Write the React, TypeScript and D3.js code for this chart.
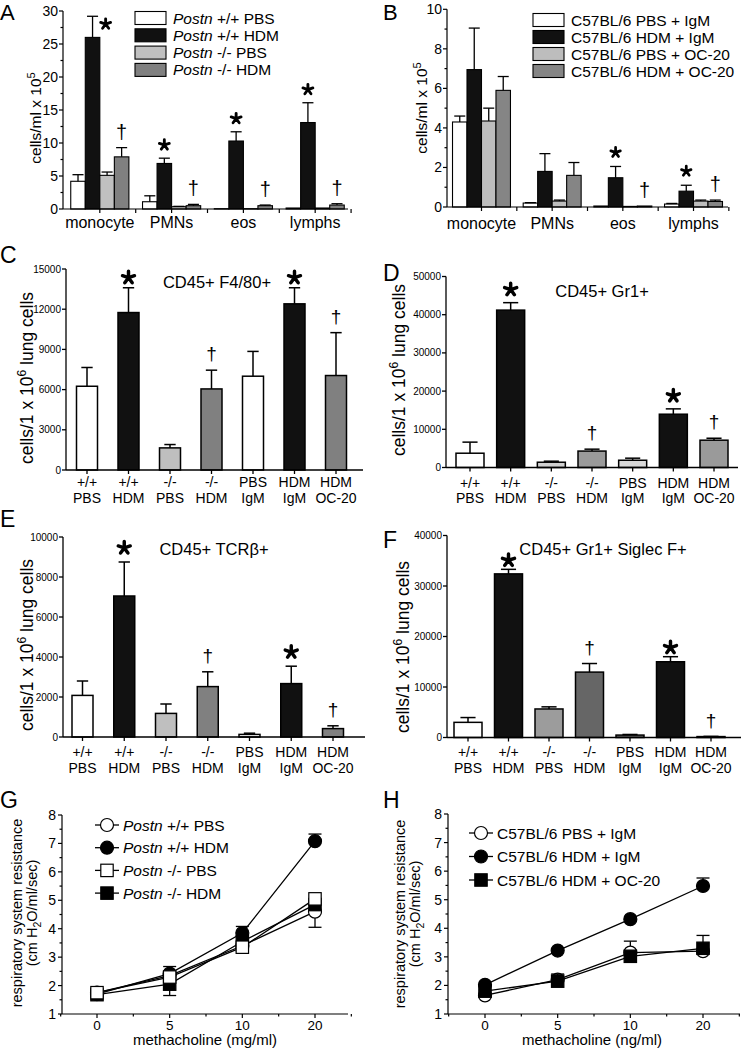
import React from "react";
import * as d3 from "d3";

const FONT = "'Liberation Sans', Arial, Helvetica, sans-serif";

// ---------- Panels A & B: BAL cell counts ----------
const cellTypes = ["monocyte", "PMNs", "eos", "lymphs"];

const aGroups = ["+/+ PBS", "+/+ HDM", "-/- PBS", "-/- HDM"];
const aMean = [
  [4.2, 1.1, 0.05, 0.15],
  [26.0, 6.9, 10.3, 13.1],
  [5.1, 0.35, 0.05, 0.15],
  [7.9, 0.5, 0.5, 0.6],
];
const aSem = [
  [1.0, 0.9, 0, 0],
  [3.2, 0.8, 1.4, 3.0],
  [0.5, 0.05, 0, 0],
  [1.4, 0.2, 0.1, 0.2],
];
const aStar = [[1, 0], [1, 1], [1, 2], [1, 3]];
const aDagger = [[3, 0], [3, 1], [3, 2], [3, 3]];
const aTicks = [0, 5, 10, 15, 20, 25, 30];

const bGroups = ["C57BL/6 PBS + IgM", "C57BL/6 HDM + IgM", "C57BL/6 PBS + OC-20", "C57BL/6 HDM + OC-20"];
const bMean = [
  [4.3, 0.2, 0.05, 0.15],
  [6.95, 1.8, 1.48, 0.8],
  [4.35, 0.3, 0.03, 0.3],
  [5.9, 1.6, 0.05, 0.28],
];
const bSem = [
  [0.3, 0.02, 0, 0.03],
  [2.1, 0.9, 0.57, 0.3],
  [0.65, 0.05, 0, 0.05],
  [0.7, 0.65, 0, 0.07],
];
const bStar = [[1, 2], [1, 3]];
const bDagger = [[3, 2], [3, 3]];
const bTicks = [0, 2, 4, 6, 8, 10];

// ---------- Panels C-F: lung cell flow counts ----------
const treatTop = ["+/+", "+/+", "-/-", "-/-", "PBS", "HDM", "HDM"];
const treatBottom = ["PBS", "HDM", "PBS", "HDM", "IgM", "IgM", "OC-20"];

const cMean = [6250, 11750, 1650, 6050, 7000, 12400, 7050];
const cSem = [1400, 1850, 250, 1400, 1850, 1200, 3200];
const cTicks = [0, 3000, 6000, 9000, 12000, 15000];

const dMean = [3740, 41200, 1380, 4300, 1900, 13950, 7150];
const dSem = [2900, 1950, 270, 500, 540, 1400, 510];
const dTicks = [0, 10000, 20000, 30000, 40000, 50000];

const eMean = [2080, 7050, 1180, 2520, 130, 2670, 420];
const eSem = [720, 1700, 470, 740, 60, 870, 140];
const eTicks = [0, 2000, 4000, 6000, 8000, 10000];

const fMean = [3000, 32400, 5650, 12950, 480, 15000, 180];
const fSem = [950, 900, 420, 1700, 120, 1000, 40];
const fTicks = [0, 10000, 20000, 30000, 40000];

const starIdx = [1, 5];
const daggerIdx = [3, 6];

// ---------- Panels G & H: airway resistance ----------
const doseLabels = ["0", "5", "10", "20"];
const resTicks = [1, 2, 3, 4, 5, 6, 7, 8];

const gGroups = ["+/+ PBS", "+/+ HDM", "-/- PBS", "-/- HDM"];
const gMean = [
  [1.75, 2.35, 3.4, 4.6],
  [1.7, 2.42, 3.85, 7.08],
  [1.75, 2.3, 3.35, 5.05],
  [1.68, 2.05, 3.55, 4.85],
];
const gErrUp = [
  [0, 0, 0, 0],
  [0, 0.25, 0.23, 0.25],
  [0, 0, 0, 0],
  [0, 0, 0, 0],
];
const gErrDown = [
  [0, 0, 0, 0.55],
  [0, 0, 0, 0],
  [0, 0, 0.15, 0],
  [0, 0.4, 0, 0],
];

const hGroups = ["C57BL/6 PBS + IgM", "C57BL/6 HDM + IgM", "C57BL/6 HDM + OC-20"];
const hMean = [
  [1.65, 2.2, 3.15, 3.2],
  [2.02, 3.22, 4.32, 5.48],
  [1.8, 2.15, 3.02, 3.3],
];
const hErrUp = [
  [0, 0, 0.4, 0],
  [0, 0, 0, 0.28],
  [0, 0.25, 0, 0.45],
];
const hErrDown = [
  [0, 0, 0, 0],
  [0, 0, 0, 0],
  [0, 0, 0, 0],
];

// ---------- helpers ----------
function starPath(cx: number, cy: number, r: number) {
  const p = d3.path();
  for (let k = 0; k < 5; k++) {
    const a = (-90 + 72 * k) * (Math.PI / 180);
    p.moveTo(cx, cy);
    p.lineTo(cx + r * Math.cos(a), cy + r * Math.sin(a));
  }
  return p.toString();
}

// star centred above yTop with given gap; r = arm length
function Star({ x, yTop, r, gap }: any) {
  const cy = yTop - gap - r * 0.81;
  return <path d={starPath(x, cy, r)} stroke="#000" strokeWidth={r * 0.55} fill="none" strokeLinecap="round" />;
}
function Dagger({ x, yTop, fs, gap = 6 }: any) {
  return (
    <text x={x} y={yTop - gap - 0.15 * fs} fontSize={fs} textAnchor="middle">†</text>
  );
}

function GroupLabel({ label, italic }: any) {
  if (!italic) return <>{label}</>;
  return (
    <>
      <tspan fontStyle="italic">Postn</tspan> {label}
    </>
  );
}

function GroupedPanel({ p }: any) {
  const y = d3.scaleLinear().domain([0, p.max]).range([p.bottom, p.top]);
  const x = d3.scaleBand().domain(cellTypes).range(p.band).paddingInner(p.pi).paddingOuter(p.po);
  const sub = d3.scaleBand().domain(p.groups).range([0, x.bandwidth()]);
  const bw = sub.bandwidth();
  const step = x.step();
  const minorTicks = d3.range(p.minor, p.max, p.minor).filter((v: number) => !p.ticks.includes(v));
  const centers = cellTypes.map((c) => (x(c) as number) + x.bandwidth() / 2);
  const xt = [...centers, ...centers.map((c) => c + step / 2)];
  const barX = (s: number, c: number) => (x(cellTypes[c]) as number) + (sub(p.groups[s]) as number);
  return (
    <g>
      <text x={p.letter[1]} y={p.letter[2]} fontSize={22}>{p.letter[0]}</text>
      {p.means.map((row: number[], s: number) =>
        row.map((v: number, c: number) => (
          <rect key={`b${s}-${c}`} x={barX(s, c)} y={y(v)} width={bw} height={p.bottom - y(v)}
            fill={p.fills[s]} stroke="#000" strokeWidth={1.1} />
        ))
      )}
      {p.means.map((row: number[], s: number) =>
        row.map((v: number, c: number) => {
          const e = p.sems[s][c];
          if (!e) return null;
          const cx = barX(s, c) + bw / 2;
          return (
            <g key={`e${s}-${c}`} stroke="#000" strokeWidth={1.3}>
              <line x1={cx} x2={cx} y1={y(v)} y2={y(v + e)} />
              <line x1={cx - bw * 0.38} x2={cx + bw * 0.38} y1={y(v + e)} y2={y(v + e)} />
            </g>
          );
        })
      )}
      {p.stars.map(([s, c]: number[], i: number) => {
        const top = p.means[s][c] + p.sems[s][c];
        const cx = barX(s, c) + bw / 2;
        if (top > p.max * 0.9) {
          return <Star key={`s${i}`} x={cx + bw * 0.9} yTop={y(top) + 12} r={p.starR} gap={0} />;
        }
        return <Star key={`s${i}`} x={cx} yTop={y(top)} r={p.starR} gap={p.starGap} />;
      })}
      {p.daggers.map(([s, c]: number[], i: number) => {
        const top = p.means[s][c] + p.sems[s][c];
        return <Dagger key={`d${i}`} x={barX(s, c) + bw / 2} yTop={y(top)} fs={20} gap={6} />;
      })}
      <g stroke="#000" strokeWidth={1.2}>
        <line x1={p.axisX[0]} x2={p.axisX[0]} y1={p.bottom} y2={p.top} />
        <line x1={p.axisX[0]} x2={p.axisX[1]} y1={p.bottom} y2={p.bottom} />
        {p.ticks.map((t: number) => (
          <line key={`yt${t}`} x1={p.axisX[0] - 4} x2={p.axisX[0]} y1={y(t)} y2={y(t)} />
        ))}
        {minorTicks.map((t: number) => (
          <line key={`ym${t}`} x1={p.axisX[0] - 2.5} x2={p.axisX[0]} y1={y(t)} y2={y(t)} />
        ))}
        {xt.map((t: number, i: number) => (
          <line key={`xt${i}`} x1={t} x2={t} y1={p.bottom} y2={p.bottom + 4} />
        ))}
      </g>
      {p.ticks.map((t: number) => (
        <text key={`yl${t}`} x={p.axisX[0] - 5} y={y(t) + 5} fontSize={14} textAnchor="end">{t}</text>
      ))}
      {cellTypes.map((c, i) => (
        <text key={`xl${c}`} x={centers[i]} y={p.catY} fontSize={16} textAnchor="middle">{c}</text>
      ))}
      <text transform={`translate(${p.ylab[0]},${p.ylab[1]}) rotate(-90)`} fontSize={15.5} textAnchor="middle">
        cells/ml x 10<tspan dy={-6} fontSize={11}>5</tspan>
      </text>
      {p.groups.map((g: string, i: number) => (
        <g key={`lg${i}`}>
          <rect x={p.legend[0]} y={p.legend[1] + i * p.legend[2] - 6.5} width={31} height={13}
            fill={p.fills[i]} stroke="#000" strokeWidth={1.1} />
          <text x={p.legend[0] + 38} y={p.legend[1] + i * p.legend[2] + 5.5} fontSize={15.5}>
            <GroupLabel label={g} italic={p.italic} />
          </text>
        </g>
      ))}
    </g>
  );
}

function SinglePanel({ p }: any) {
  const keys = treatTop.map((t, i) => `${t} ${treatBottom[i]}`);
  const x = d3.scalePoint().domain(keys).range(p.centers);
  const y = d3.scaleLinear().domain([0, p.max]).range([p.bottom, p.top]);
  const bw = p.bw;
  return (
    <g>
      <text x={p.letter[1]} y={p.letter[2]} fontSize={23}>{p.letter[0]}</text>
      {p.means.map((v: number, i: number) => (
        <rect key={`b${i}`} x={(x(keys[i]) as number) - bw / 2} y={y(v)} width={bw} height={p.bottom - y(v)}
          fill={p.fills[i]} stroke="#000" strokeWidth={1.5} />
      ))}
      {p.means.map((v: number, i: number) => {
        const e = p.sems[i];
        const cx = x(keys[i]) as number;
        return (
          <g key={`e${i}`} stroke="#000" strokeWidth={1.5}>
            <line x1={cx} x2={cx} y1={y(v)} y2={y(v + e)} />
            <line x1={cx - bw * 0.27} x2={cx + bw * 0.27} y1={y(v + e)} y2={y(v + e)} />
          </g>
        );
      })}
      {starIdx.map((i) => (
        <Star key={`s${i}`} x={x(keys[i]) as number} yTop={y(p.means[i] + p.sems[i])} r={6.3} gap={p.starGap} />
      ))}
      {daggerIdx.map((i) => (
        <Dagger key={`d${i}`} x={x(keys[i]) as number} yTop={y(p.means[i] + p.sems[i])} fs={19} gap={7} />
      ))}
      <g stroke="#000" strokeWidth={1.3}>
        <line x1={p.axisX[0]} x2={p.axisX[0]} y1={p.bottom} y2={p.top} />
        <line x1={p.axisX[0]} x2={p.axisX[1]} y1={p.bottom} y2={p.bottom} />
        {p.ticks.map((t: number) => (
          <line key={`yt${t}`} x1={p.axisX[0] - 4} x2={p.axisX[0]} y1={y(t)} y2={y(t)} />
        ))}
        {keys.map((k) => (
          <line key={`xt${k}`} x1={x(k) as number} x2={x(k) as number} y1={p.bottom} y2={p.bottom + 4} />
        ))}
      </g>
      {p.ticks.map((t: number) => (
        <text key={`yl${t}`} x={p.axisX[0] - 5} y={y(t) + 3.5} fontSize={10} textAnchor="end">{t}</text>
      ))}
      {keys.map((k, i) => (
        <g key={`xl${k}`}>
          <text x={x(k) as number} y={p.catY[0]} fontSize={14} textAnchor="middle">{treatTop[i]}</text>
          <text x={x(k) as number} y={p.catY[1]} fontSize={14} textAnchor="middle">{treatBottom[i]}</text>
        </g>
      ))}
      <text x={p.title[1]} y={p.title[2]} fontSize={16.5} textAnchor="middle">{p.title[0]}</text>
      <text transform={`translate(${p.ylab[0]},${p.ylab[1]}) rotate(-90)`} fontSize={17.5} textAnchor="middle">
        cells/1 x 10<tspan dy={-7} fontSize={12}>6</tspan><tspan dy={7}> lung cells</tspan>
      </text>
    </g>
  );
}

function Marker({ kind, x, y }: any) {
  const filled = kind.endsWith("f");
  const fill = filled ? "#000" : "#fff";
  if (kind.startsWith("c")) return <circle cx={x} cy={y} r={6.5} fill={fill} stroke="#000" strokeWidth={1.2} />;
  return <rect x={x - 6.2} y={y - 6.2} width={12.4} height={12.4} fill={fill} stroke="#000" strokeWidth={1.2} />;
}

function DosePanel({ p }: any) {
  const x = d3.scalePoint().domain(doseLabels).range(p.pts);
  const y = d3.scaleLinear().domain([1, 8]).range([p.bottom, p.top]);
  const step = x.step();
  const line = d3.line<number>().x((_, i) => x(doseLabels[i]) as number).y((d) => y(d));
  const minorY = d3.range(1.5, 8, 1);
  const minorX = [...doseLabels.map((d) => (x(d) as number) - step / 2), (x(doseLabels[3]) as number) + step / 2];
  return (
    <g>
      <text x={p.letter[1]} y={p.letter[2]} fontSize={23}>{p.letter[0]}</text>
      {p.order.map((s: number) => (
        <g key={`ser${s}`}>
          <path d={line(p.means[s]) as string} fill="none" stroke="#000" strokeWidth={1.3} />
        </g>
      ))}
      {p.order.map((s: number) => (
        <g key={`mk${s}`}>
          {p.means[s].map((v: number, i: number) => {
            const cx = x(doseLabels[i]) as number;
            const up = p.up[s][i];
            const dn = p.down[s][i];
            return (
              <g key={i} stroke="#000" strokeWidth={1.3}>
                {up > 0 && (
                  <>
                    <line x1={cx} x2={cx} y1={y(v)} y2={y(v + up)} />
                    <line x1={cx - 6.5} x2={cx + 6.5} y1={y(v + up)} y2={y(v + up)} />
                  </>
                )}
                {dn > 0 && (
                  <>
                    <line x1={cx} x2={cx} y1={y(v)} y2={y(v - dn)} />
                    <line x1={cx - 6.5} x2={cx + 6.5} y1={y(v - dn)} y2={y(v - dn)} />
                  </>
                )}
              </g>
            );
          })}
          {p.means[s].map((v: number, i: number) => (
            <Marker key={`m${i}`} kind={p.markers[s]} x={x(doseLabels[i]) as number} y={y(v)} />
          ))}
        </g>
      ))}
      <g stroke="#000" strokeWidth={1.2}>
        <line x1={p.axisX[0]} x2={p.axisX[0]} y1={p.bottom} y2={p.top} />
        <line x1={p.axisX[0]} x2={p.axisX[1]} y1={p.bottom} y2={p.bottom} />
        {resTicks.map((t) => (
          <line key={`yt${t}`} x1={p.axisX[0] - 4} x2={p.axisX[0]} y1={y(t)} y2={y(t)} />
        ))}
        {minorY.map((t: number) => (
          <line key={`ym${t}`} x1={p.axisX[0] - 2.5} x2={p.axisX[0]} y1={y(t)} y2={y(t)} />
        ))}
        {doseLabels.map((d) => (
          <line key={`xt${d}`} x1={x(d) as number} x2={x(d) as number} y1={p.bottom} y2={p.bottom + 4} />
        ))}
        {minorX.map((t: number, i: number) => (
          <line key={`xm${i}`} x1={t} x2={t} y1={p.bottom} y2={p.bottom + 2.5} />
        ))}
      </g>
      {resTicks.map((t) => (
        <text key={`yl${t}`} x={p.axisX[0] - 6} y={y(t) + 5} fontSize={14} textAnchor="end">{t}</text>
      ))}
      {doseLabels.map((d) => (
        <text key={`xl${d}`} x={x(d) as number} y={p.bottom + 15.5} fontSize={13.5} textAnchor="middle">{d}</text>
      ))}
      <text x={p.xlab[1]} y={p.xlab[2]} fontSize={15} textAnchor="middle">{p.xlab[0]}</text>
      <text transform={`translate(${p.ylab[0]},${p.ylab[2]}) rotate(-90)`} fontSize={14.5} textAnchor="middle">
        respiratory system resistance
      </text>
      <text transform={`translate(${p.ylab[1]},${p.ylab[2]}) rotate(-90)`} fontSize={14.5} textAnchor="middle">
        (cm H<tspan dy={4} fontSize={10.5}>2</tspan><tspan dy={-4}>O/ml/sec)</tspan>
      </text>
      {p.groups.map((g: string, i: number) => {
        const ly = p.legend[1] + i * p.legend[2];
        return (
          <g key={`lg${i}`}>
            <line x1={p.legend[0] - 12} x2={p.legend[0] + 12} y1={ly} y2={ly} stroke="#000" strokeWidth={1.3} />
            <Marker kind={p.markers[i]} x={p.legend[0]} y={ly} />
            <text x={p.legend[0] + 16} y={ly + 5.5} fontSize={15.5}>
              <GroupLabel label={g} italic={p.italic} />
            </text>
          </g>
        );
      })}
    </g>
  );
}

// ---------- layout configuration ----------
const panelA = {
  letter: ["A", 0, 20], means: aMean, sems: aSem, groups: aGroups, stars: aStar, daggers: aDagger,
  ticks: aTicks, minor: 2.5, max: 30, axisX: [63, 348], band: [65, 350], pi: 0.19, po: 0.08,
  bottom: 209, top: 11, catY: 228, ylab: [41, 118], legend: [135, 18, 17.3], italic: true,
  starR: 5.2, starGap: 9,
  fills: ["#ffffff", "#111111", "#c0c0c0", "#808080"],
};
const panelB = {
  letter: ["B", 383, 20], means: bMean, sems: bSem, groups: bGroups, stars: bStar, daggers: bDagger,
  ticks: bTicks, minor: 1, max: 10, axisX: [447, 728], band: [447, 728], pi: 0.18, po: 0.078,
  bottom: 207, top: 9.3, catY: 229, ylab: [427, 108], legend: [533, 20, 17], italic: false,
  starR: 5, starGap: 10,
  fills: ["#ffffff", "#111111", "#bdbdbd", "#858585"],
};
const panelC = {
  letter: ["C", 0, 263], means: cMean, sems: cSem, ticks: cTicks, max: 15000,
  centers: [87, 336], bw: 21, axisX: [66, 363], bottom: 470, top: 269, catY: [487, 503],
  title: ["CD45+ F4/80+", 217, 288], ylab: [33, 378], starGap: 5,
  fills: ["#ffffff", "#111111", "#bfbfbf", "#808080", "#ffffff", "#111111", "#808080"],
};
const panelD = {
  letter: ["D", 383, 281], means: dMean, sems: dSem, ticks: dTicks, max: 50000,
  centers: [470, 714], bw: 28, axisX: [446, 738], bottom: 467.5, top: 276.5, catY: [488, 503],
  title: ["CD45+ Gr1+", 602, 297], ylab: [405, 370], starGap: 8,
  fills: ["#ffffff", "#111111", "#d0d0d0", "#9a9a9a", "#d8d8d8", "#111111", "#9a9a9a"],
};
const panelE = {
  letter: ["E", 0, 527], means: eMean, sems: eSem, ticks: eTicks, max: 10000,
  centers: [82.5, 333], bw: 21, axisX: [63, 365], bottom: 737, top: 537, catY: [757, 773],
  title: ["CD45+ TCRβ+", 214, 555], ylab: [33, 645], starGap: 9,
  fills: ["#ffffff", "#111111", "#bfbfbf", "#808080", "#ffffff", "#111111", "#808080"],
};
const panelF = {
  letter: ["F", 383, 548], means: fMean, sems: fSem, ticks: fTicks, max: 40000,
  centers: [468, 711], bw: 28, axisX: [447, 741], bottom: 737.5, top: 535.5, catY: [757, 773],
  title: ["CD45+ Gr1+ Siglec F+", 603, 555], ylab: [409, 647], starGap: 4,
  fills: ["#ffffff", "#111111", "#9c9c9c", "#666666", "#777777", "#111111", "#999999"],
};
const panelG = {
  letter: ["G", 0, 808], means: gMean, up: gErrUp, down: gErrDown, groups: gGroups,
  markers: ["co", "cf", "so", "sf"], order: [0, 1, 3, 2], italic: true,
  pts: [97, 315], axisX: [62, 348], bottom: 1014, top: 815,
  xlab: ["methacholine (mg/ml)", 205, 1045], ylab: [22, 37, 913], legend: [107, 825, 22.7],
};
const panelH = {
  letter: ["H", 383, 808], means: hMean, up: hErrUp, down: hErrDown, groups: hGroups,
  markers: ["co", "cf", "sf"], order: [0, 1, 2], italic: false,
  pts: [485, 703], axisX: [448, 740], bottom: 1014, top: 814,
  xlab: ["methacholine (ng/ml)", 592, 1045], ylab: [405, 420, 914], legend: [481, 833, 23.5],
};

export default function App() {
  return (
    <svg width={741} height={1049} viewBox="0 0 741 1049" fontFamily={FONT}
      style={{ position: "absolute", left: 0, top: 0, background: "#fff" }}>
      <rect width={741} height={1049} fill="#fff" />
      <GroupedPanel p={panelA} />
      <GroupedPanel p={panelB} />
      <SinglePanel p={panelC} />
      <SinglePanel p={panelD} />
      <SinglePanel p={panelE} />
      <SinglePanel p={panelF} />
      <DosePanel p={panelG} />
      <DosePanel p={panelH} />
    </svg>
  );
}
